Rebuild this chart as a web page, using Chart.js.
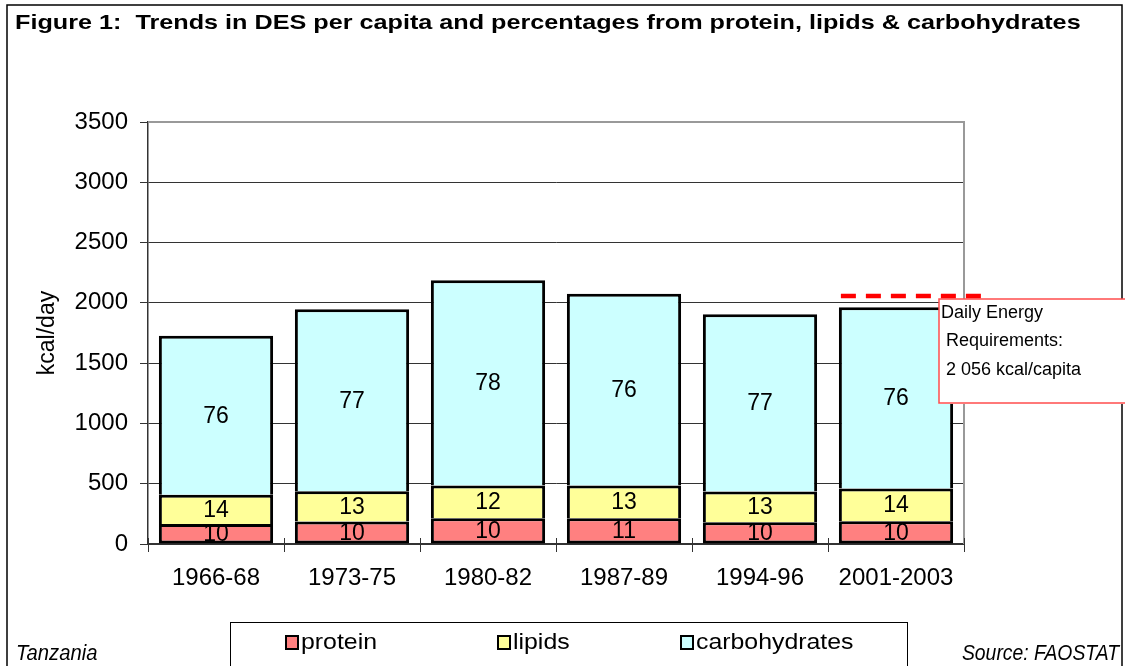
<!DOCTYPE html>
<html>
<head>
<meta charset="utf-8">
<script src="https://cdn.jsdelivr.net/npm/chart.js@4.4.1/dist/chart.umd.min.js"></script>
<style>
  html, body { margin: 0; padding: 0; background: #fff; }
  #wrap { width: 1125px; height: 666px; }
</style>
</head>
<body>
<div id="wrap"><canvas id="myChart" width="1125" height="666"></canvas></div>
<script>
// values (kcal/day and % of DES)
const periods = ['1966-68', '1973-75', '1980-82', '1987-89', '1994-96', '2001-2003'];
const proteinKcal = [165, 186, 214, 214, 180, 188];
const lipidsKcal = [243, 252, 272, 272, 256, 273];
const carbsKcal = [1319, 1509, 1702, 1589, 1469, 1502];
const proteinPct = [10, 10, 10, 11, 10, 10];
const lipidsPct = [14, 13, 12, 13, 13, 14];
const carbsPct = [76, 77, 78, 76, 77, 76];
const yTicks = [0, 500, 1000, 1500, 2000, 2500, 3000, 3500];
const energyRequirement = 2056;
const requirementText = ['Daily Energy', ' Requirements:', ' 2 056 kcal/capita'];

const FONT = "'Liberation Sans', Arial, sans-serif";

// text with a horizontal stretch, the original export is not square
function stretchText(ctx, text, x, y, font, sx, align) {
    ctx.save();
    ctx.font = font;
    ctx.textAlign = align || 'left';
    ctx.translate(x, y);
    ctx.scale(sx, 1);
    ctx.fillText(text, 0, 0);
    ctx.restore();
}

// page frame, title and footer texts
const framePlugin = {
    id: 'frame',
    beforeDraw(chart) {
        const ctx = chart.ctx;
        ctx.save();
        ctx.fillStyle = '#fff';
        ctx.fillRect(0, 0, chart.width, chart.height);
        ctx.strokeStyle = '#000';
        ctx.lineWidth = 1.5;
        ctx.strokeRect(7, 5, 1115, 670);
        ctx.fillStyle = '#000';
        ctx.textBaseline = 'middle';
        stretchText(ctx, 'Figure 1:  Trends in DES per capita and percentages from protein, lipids & carbohydrates',
            15, 23, 'bold 21px ' + FONT, 1.2);
        ctx.textBaseline = 'alphabetic';
        stretchText(ctx, 'Tanzania', 16, 660, 'italic 22px ' + FONT, 0.92);
        stretchText(ctx, 'Source: FAOSTAT', 1119, 660, 'italic 22px ' + FONT, 0.88, 'right');
        ctx.restore();
    }
};

// grey plot-area border (top and right) and the inner half of the x ticks
const plotBorderPlugin = {
    id: 'plotBorder',
    beforeDatasetsDraw(chart) {
        const { ctx, chartArea, scales } = chart;
        ctx.save();
        ctx.strokeStyle = '#999';
        ctx.lineWidth = 2;
        ctx.beginPath();
        ctx.moveTo(chartArea.left, chartArea.top);
        ctx.lineTo(chartArea.right, chartArea.top);
        ctx.lineTo(chartArea.right, chartArea.bottom);
        ctx.stroke();
        ctx.strokeStyle = '#333';
        ctx.lineWidth = 1;
        ctx.beginPath();
        for (let i = 0; i <= periods.length; i++) {
            const x = Math.round(scales.x.getPixelForValue(i - 0.5)) + 0.5;
            ctx.moveTo(x, chartArea.bottom);
            ctx.lineTo(x, chartArea.bottom - 6);
        }
        ctx.stroke();
        ctx.restore();
    }
};

// percentage labels in the middle of each segment
const pctLabels = [proteinPct, lipidsPct, carbsPct];
const segmentLabelPlugin = {
    id: 'segmentLabels',
    afterDatasetsDraw(chart) {
        const ctx = chart.ctx;
        ctx.save();
        ctx.fillStyle = '#000';
        ctx.font = '23px ' + FONT;
        ctx.textAlign = 'center';
        ctx.textBaseline = 'middle';
        chart.data.datasets.forEach((ds, i) => {
            chart.getDatasetMeta(i).data.forEach((bar, j) => {
                const p = bar.getProps(['x', 'y', 'base'], true);
                ctx.fillText(String(pctLabels[i][j]), p.x, (p.y + p.base) / 2 + 1);
            });
        });
        ctx.restore();
    }
};

// dashed requirement line with its callout
const requirementPlugin = {
    id: 'requirement',
    afterDatasetsDraw(chart) {
        const { ctx, chartArea, scales } = chart;
        const y = scales.y.getPixelForValue(energyRequirement);
        const last = chart.getDatasetMeta(2).data[periods.length - 1].getProps(['x', 'width'], true);
        ctx.save();
        ctx.fillStyle = '#fff';
        ctx.fillRect(939, 299, 190, 105);
        ctx.strokeStyle = '#ff4d4d';
        ctx.lineWidth = 1.5;
        ctx.strokeRect(939, 299, 200, 104);
        ctx.fillStyle = '#000';
        ctx.font = '18px ' + FONT;
        ctx.textAlign = 'left';
        ctx.textBaseline = 'middle';
        requirementText.forEach((t, k) => ctx.fillText(t, 941, 313 + k * 28.5));
        ctx.strokeStyle = '#ff0000';
        ctx.lineWidth = 4.5;
        ctx.setLineDash([15, 10]);
        ctx.beginPath();
        ctx.moveTo(last.x - last.width / 2 + 2, y);
        ctx.lineTo(chartArea.right + 20, y);
        ctx.stroke();
        ctx.restore();
    }
};

// boxed legend under the axis
const legendPlugin = {
    id: 'boxLegend',
    afterDraw(chart) {
        const ctx = chart.ctx;
        const itemX = [286, 498, 681];
        ctx.save();
        ctx.strokeStyle = '#000';
        ctx.lineWidth = 1;
        ctx.strokeRect(230.5, 622.5, 677, 44);
        ctx.textBaseline = 'middle';
        chart.data.datasets.forEach((ds, i) => {
            ctx.fillStyle = ds.backgroundColor;
            ctx.fillRect(itemX[i], 636, 12, 13);
            ctx.lineWidth = 2;
            ctx.strokeStyle = '#000';
            ctx.strokeRect(itemX[i], 636, 12, 13);
            ctx.fillStyle = '#000';
            stretchText(ctx, ds.label, itemX[i] + 15, 643, '22px ' + FONT, 1.13);
        });
        ctx.restore();
    }
};

const ctx = document.getElementById('myChart');

const topBorder = { top: 3, left: 3, right: 3, bottom: 0 };

new Chart(ctx, {
    type: 'bar',
    data: {
        labels: periods,
        datasets: [
            { label: 'protein', data: proteinKcal, backgroundColor: '#ff8080', borderWidth: 3 },
            { label: 'lipids', data: lipidsKcal, backgroundColor: '#ffff99', borderWidth: topBorder },
            { label: 'carbohydrates', data: carbsKcal, backgroundColor: '#ccffff', borderWidth: topBorder }
        ].map(d => Object.assign(d, {
            borderColor: '#000',
            borderSkipped: false,
            barPercentage: 0.84,
            categoryPercentage: 1.0
        }))
    },
    options: {
        responsive: false,
        animation: false,
        layout: { padding: { top: 122, right: 161, bottom: 0, left: 0 } },
        plugins: {
            legend: { display: false },
            tooltip: { enabled: false }
        },
        scales: {
            x: {
                stacked: true,
                grid: { offset: true, drawOnChartArea: false, tickLength: 8, color: '#333' },
                border: { color: '#333', width: 2 },
                ticks: { color: '#000', font: { size: 24, family: FONT }, padding: 12, maxRotation: 0 },
                afterFit: s => { s.height = 122; }
            },
            y: {
                stacked: true,
                min: 0,
                max: 3500,
                afterBuildTicks: s => { s.ticks = yTicks.map(v => ({ value: v })); },
                grid: { color: '#333', tickLength: 8 },
                border: { color: '#333', width: 1.5 },
                ticks: {
                    color: '#000',
                    font: { size: 24, family: FONT },
                    padding: 12,
                    callback: v => String(v)
                },
                title: {
                    display: true,
                    text: 'kcal/day',
                    color: '#000',
                    font: { size: 23, family: FONT },
                    padding: { top: 34, bottom: 0 }
                },
                afterFit: s => { s.width = 148; }
            }
        }
    },
    plugins: [framePlugin, plotBorderPlugin, segmentLabelPlugin, requirementPlugin, legendPlugin]
});
</script>
</body>
</html>
